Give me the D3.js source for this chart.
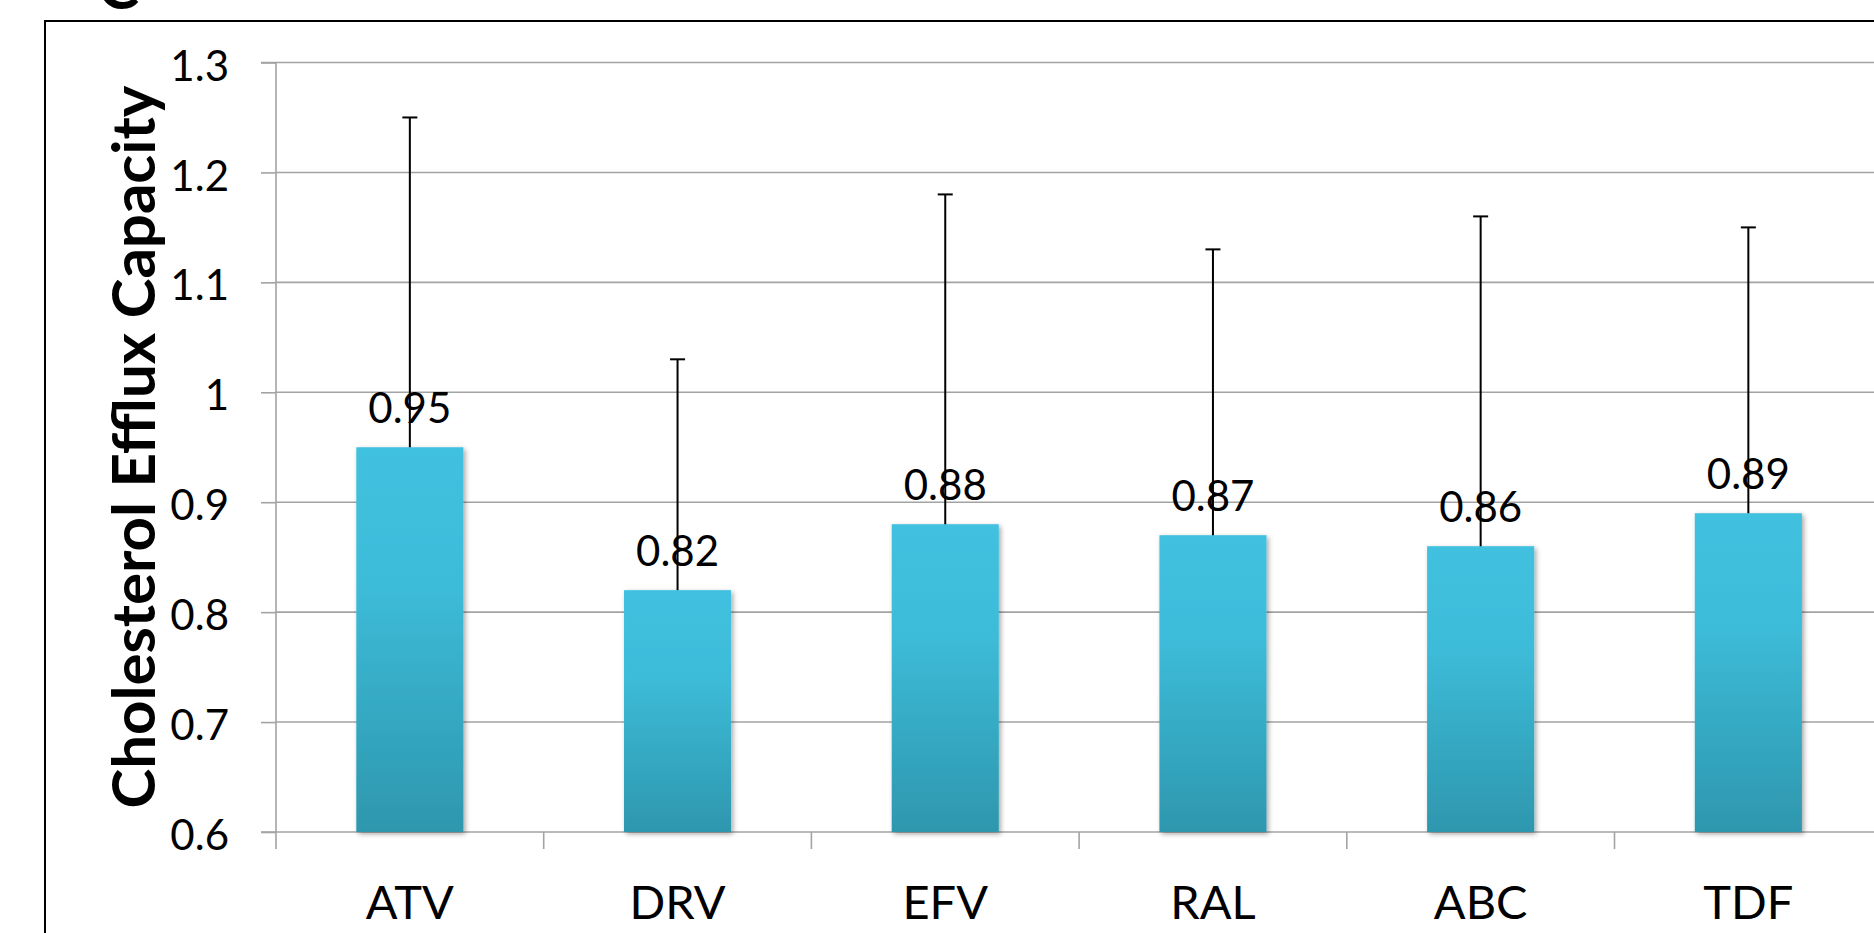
<!DOCTYPE html>
<html>
<head>
<meta charset="utf-8">
<script src="https://cdn.jsdelivr.net/npm/d3@7"></script>
<style>
  html, body { margin: 0; padding: 0; background: #fff; overflow: hidden; }
  svg { display: block; }
</style>
</head>
<body>
<svg id="chart" width="1874" height="933"></svg>
<script>
// ---- data ----
const categories = ["ATV", "DRV", "EFV", "RAL", "ABC", "TDF"];
const means = [0.95, 0.82, 0.88, 0.87, 0.86, 0.89];
const errorTops = [1.25, 1.03, 1.18, 1.13, 1.16, 1.15];
const yTicks = [0.6, 0.7, 0.8, 0.9, 1.0, 1.1, 1.2, 1.3];
const yTickLabels = ["0.6", "0.7", "0.8", "0.9", "1", "1.1", "1.2", "1.3"];
const yTitle = "Cholesterol Efflux Capacity";
const panelLabel = "C";

// ---- layout ----
const W = 1874, H = 933;
const plotLeft = 276, plotTop = 62.5, plotBottom = 832;
const step = 267.7;
const plotRight = plotLeft + step * categories.length;

const svg = d3.select("#chart");
const defs = svg.append("defs");

const grad = defs.append("linearGradient")
  .attr("id", "barGrad").attr("x1", 0).attr("y1", 0).attr("x2", 0).attr("y2", 1);
grad.append("stop").attr("offset", "0%").attr("stop-color", "#41c1df");
grad.append("stop").attr("offset", "35%").attr("stop-color", "#3dbcd9");
grad.append("stop").attr("offset", "100%").attr("stop-color", "#2e97ae");

const shadow = defs.append("filter").attr("id", "shadow")
  .attr("x", "-10%").attr("y", "-10%").attr("width", "130%").attr("height", "130%");
shadow.append("feDropShadow").attr("dx", 2).attr("dy", 2).attr("stdDeviation", 2.5)
  .attr("flood-color", "#000").attr("flood-opacity", 0.35);

// panel label (cut off at top, as in the reference)
svg.append("text")
  .attr("x", 98).attr("y", 9)
  .attr("font-family", "Lato, 'Open Sans', sans-serif")
  .attr("font-weight", 700).attr("font-size", 62)
  .attr("fill", "#000")
  .text(panelLabel);

// frame (extends past right/bottom edges)
svg.append("rect")
  .attr("x", 45).attr("y", 21).attr("width", W + 20).attr("height", H + 20)
  .attr("fill", "none").attr("stroke", "#000").attr("stroke-width", 2);

// scales
const x = d3.scaleBand().domain(categories).range([plotLeft, plotRight])
  .paddingInner(0.6).paddingOuter(0.3);
const xCat = d3.scaleBand().domain(categories).range([plotLeft, plotRight]).padding(0);
const y = d3.scaleLinear().domain([0.6, 1.3]).range([plotBottom, plotTop]);

const gray = "#a3a3a3";

// gridlines
svg.append("g").selectAll("line").data(yTicks.slice(1)).join("line")
  .attr("x1", plotLeft).attr("x2", plotRight)
  .attr("y1", d => y(d)).attr("y2", d => y(d))
  .attr("stroke", gray).attr("stroke-width", 1.6);

// y axis
const yAxis = d3.axisLeft(y).tickValues(yTicks)
  .tickFormat((d, i) => yTickLabels[i]).tickSize(15).tickPadding(32);
const gy = svg.append("g").attr("transform", `translate(${plotLeft},0)`).call(yAxis);
gy.select(".domain").attr("stroke", gray).attr("stroke-width", 1.6)
  .attr("d", `M-15,${plotTop}H0V${plotBottom + 17}`);
gy.selectAll(".tick line").attr("stroke", gray).attr("stroke-width", 1.6);
gy.selectAll(".tick text")
  .attr("font-family", "Lato, 'Open Sans', sans-serif")
  .attr("font-size", 42).attr("fill", "#000")
  .attr("dy", "0.42em");

// x axis line + ticks at category boundaries
svg.append("line")
  .attr("x1", plotLeft - 15).attr("x2", plotRight)
  .attr("y1", plotBottom).attr("y2", plotBottom)
  .attr("stroke", gray).attr("stroke-width", 1.6);
svg.append("g").selectAll("line").data(categories).join("line")
  .attr("x1", d => xCat(d) + xCat.bandwidth()).attr("x2", d => xCat(d) + xCat.bandwidth())
  .attr("y1", plotBottom).attr("y2", plotBottom + 17)
  .attr("stroke", gray).attr("stroke-width", 1.6);

// category labels
svg.append("g").selectAll("text").data(categories).join("text")
  .attr("x", d => xCat(d) + xCat.bandwidth() / 2)
  .attr("y", 919)
  .attr("text-anchor", "middle")
  .attr("font-family", "Lato, 'Open Sans', sans-serif")
  .attr("font-size", 47).attr("fill", "#000")
  .text(d => d);

// bars
svg.append("g").selectAll("rect").data(categories).join("rect")
  .attr("x", d => x(d))
  .attr("y", (d, i) => y(means[i]))
  .attr("width", x.bandwidth())
  .attr("height", (d, i) => y(0.6) - y(means[i]))
  .attr("fill", "url(#barGrad)")
  .attr("filter", "url(#shadow)");

// value labels
svg.append("g").selectAll("text").data(categories).join("text")
  .attr("x", d => x(d) + x.bandwidth() / 2)
  .attr("y", (d, i) => y(means[i]) - 24)
  .attr("text-anchor", "middle")
  .attr("font-family", "Lato, 'Open Sans', sans-serif")
  .attr("font-size", 42).attr("fill", "#000")
  .text((d, i) => String(means[i]));

// error bars (upper only)
const eb = svg.append("g").attr("stroke", "#000").attr("stroke-width", 2);
eb.selectAll("line.v").data(categories).join("line").attr("class", "v")
  .attr("x1", d => x(d) + x.bandwidth() / 2).attr("x2", d => x(d) + x.bandwidth() / 2)
  .attr("y1", (d, i) => y(means[i])).attr("y2", (d, i) => y(errorTops[i]));
eb.selectAll("line.c").data(categories).join("line").attr("class", "c")
  .attr("x1", d => x(d) + x.bandwidth() / 2 - 7.5).attr("x2", d => x(d) + x.bandwidth() / 2 + 7.5)
  .attr("y1", (d, i) => y(errorTops[i])).attr("y2", (d, i) => y(errorTops[i]));

// y title
svg.append("text")
  .attr("transform", `translate(155, 447) rotate(-90)`)
  .attr("text-anchor", "middle")
  .attr("font-family", "Lato, 'Open Sans', sans-serif")
  .attr("font-weight", 700).attr("font-size", 60).attr("fill", "#000")
  .text(yTitle);
</script>
</body>
</html>
